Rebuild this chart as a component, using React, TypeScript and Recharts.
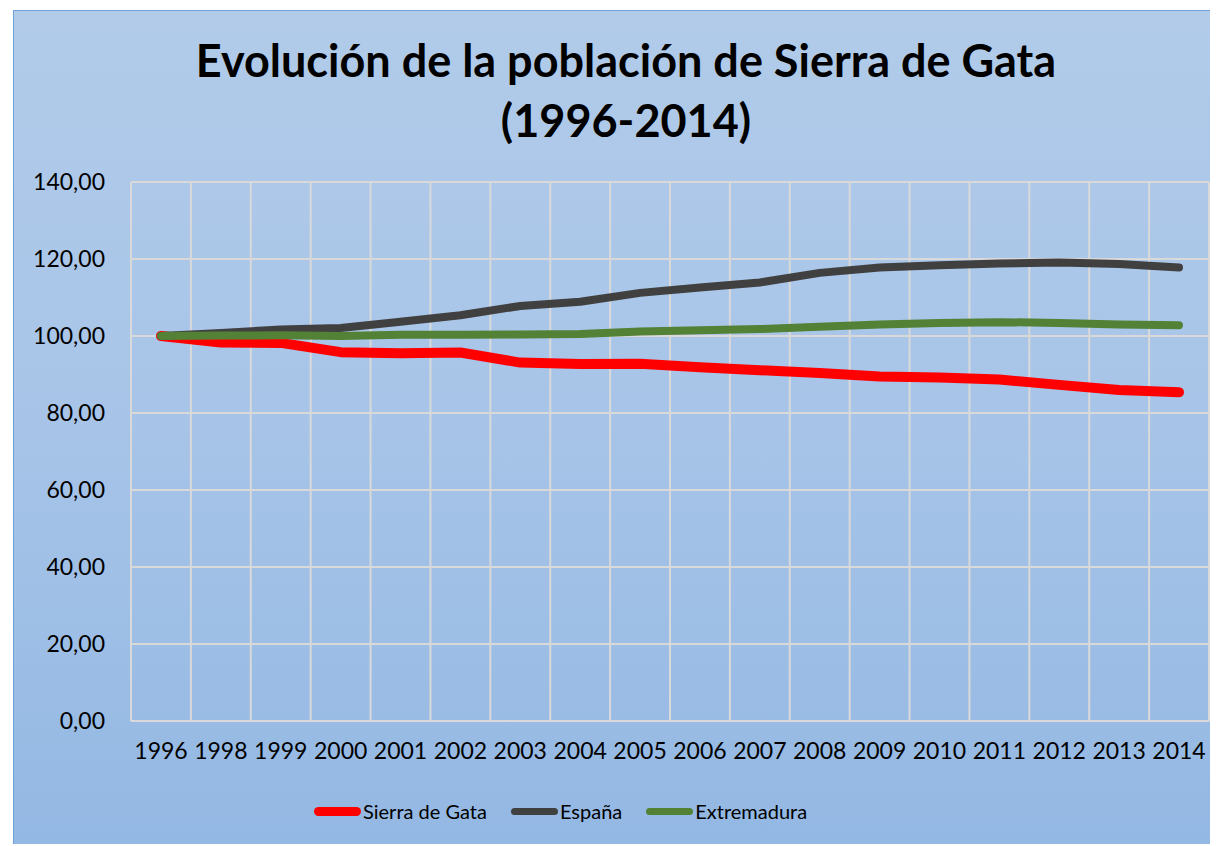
import React from 'react'
import { LineChart, Line, XAxis, YAxis, CartesianGrid } from 'recharts'

const years = ['1996', '1998', '1999', '2000', '2001', '2002', '2003', '2004', '2005', '2006', '2007', '2008', '2009', '2010', '2011', '2012', '2013', '2014']
const sierraDeGata = [100, 98.3, 98.2, 95.8, 95.5, 95.7, 93.1, 92.7, 92.8, 91.9, 91.1, 90.4, 89.5, 89.2, 88.7, 87.3, 86.0, 85.4]
const espana = [100, 100.8, 101.7, 102.1, 103.7, 105.4, 107.8, 108.9, 111.2, 112.6, 113.9, 116.4, 117.8, 118.4, 118.8, 119.1, 118.7, 117.8]
const extremadura = [100, 100.1, 100.2, 100.0, 100.3, 100.3, 100.4, 100.5, 101.2, 101.5, 101.8, 102.4, 103.0, 103.4, 103.6, 103.4, 103.0, 102.8]
const yTicks = [0, 20, 40, 60, 80, 100, 120, 140]

const series = [
  { key: 'sierra', name: 'Sierra de Gata', color: '#FF0000', width: 10 },
  { key: 'espana', name: 'España', color: '#404040', width: 8 },
  { key: 'extremadura', name: 'Extremadura', color: '#538135', width: 8 },
]

const data = years.map((y, i) => ({
  year: y,
  sierra: sierraDeGata[i],
  espana: espana[i],
  extremadura: extremadura[i],
}))

const FONT = 'Lato, "Open Sans", sans-serif'
const GRID = '#D9D9D9'

const fmt = (v: number) => v.toFixed(2).replace('.', ',')

export default function App() {
  return (
    <div
      style={{
        position: 'relative',
        left: 5,
        top: 2,
        width: 1205,
        height: 836,
        boxSizing: 'border-box',
        borderLeft: '1px solid #6FA2D8',
        borderTop: '1px solid #6FA2D8',
        background: 'linear-gradient(to bottom, #B1CBE9 0%, #A7C4E8 50%, #93B8E3 100%)',
        fontFamily: FONT,
      }}
    >
      <div
        style={{
          position: 'absolute',
          left: 612,
          top: 19,
          transform: 'translateX(-50%)',
          textAlign: 'center',
          fontWeight: 700,
          fontSize: 45,
          lineHeight: '60px',
          color: '#000',
          whiteSpace: 'nowrap',
        }}
      >
        Evolución de la población de Sierra de Gata
        <br />
        (1996-2014)
      </div>
      <LineChart
        width={1204}
        height={835}
        data={data}
        margin={{ top: 171, right: 9, bottom: 85, left: 0 }}
        style={{ position: 'absolute', left: 0, top: 0 }}
      >
        <CartesianGrid
          stroke={GRID}
          strokeWidth={2}
          verticalCoordinatesGenerator={({ offset }: any) =>
            Array.from({ length: years.length + 1 }, (_, i) => offset.left + (i * offset.width) / years.length)
          }
        />
        <XAxis
          dataKey="year"
          padding={{ left: 30, right: 30 }}
          height={40}
          tickLine={false}
          axisLine={{ stroke: GRID, strokeWidth: 2 }}
          tickMargin={16}
          interval={0}
          tick={{ fill: '#000', fontSize: 23, fontFamily: FONT }}
        />
        <YAxis
          width={117}
          domain={[0, 140]}
          ticks={yTicks}
          tickFormatter={fmt}
          tickLine={false}
          axisLine={false}
          tickMargin={20}
          tick={{ fill: '#000', fontSize: 23, fontFamily: FONT }}
        />
        {series.map((s) => (
          <Line
            key={s.key}
            type="linear"
            dataKey={s.key}
            name={s.name}
            stroke={s.color}
            strokeWidth={s.width}
            strokeLinecap="round"
            strokeLinejoin="round"
            dot={false}
            activeDot={false}
            isAnimationActive={false}
          />
        ))}
      </LineChart>
      <div
        style={{
          position: 'absolute',
          left: 300,
          top: 788,
          display: 'flex',
          alignItems: 'center',
          gap: 24,
          fontSize: 20,
          color: '#000',
        }}
      >
        {series.map((s) => (
          <div key={s.key} style={{ display: 'flex', alignItems: 'center' }}>
            <span
              style={{
                display: 'inline-block',
                width: 47,
                height: s.width - 1,
                borderRadius: 5,
                background: s.color,
                marginRight: 2,
              }}
            />
            <span>{s.name}</span>
          </div>
        ))}
      </div>
    </div>
  )
}
